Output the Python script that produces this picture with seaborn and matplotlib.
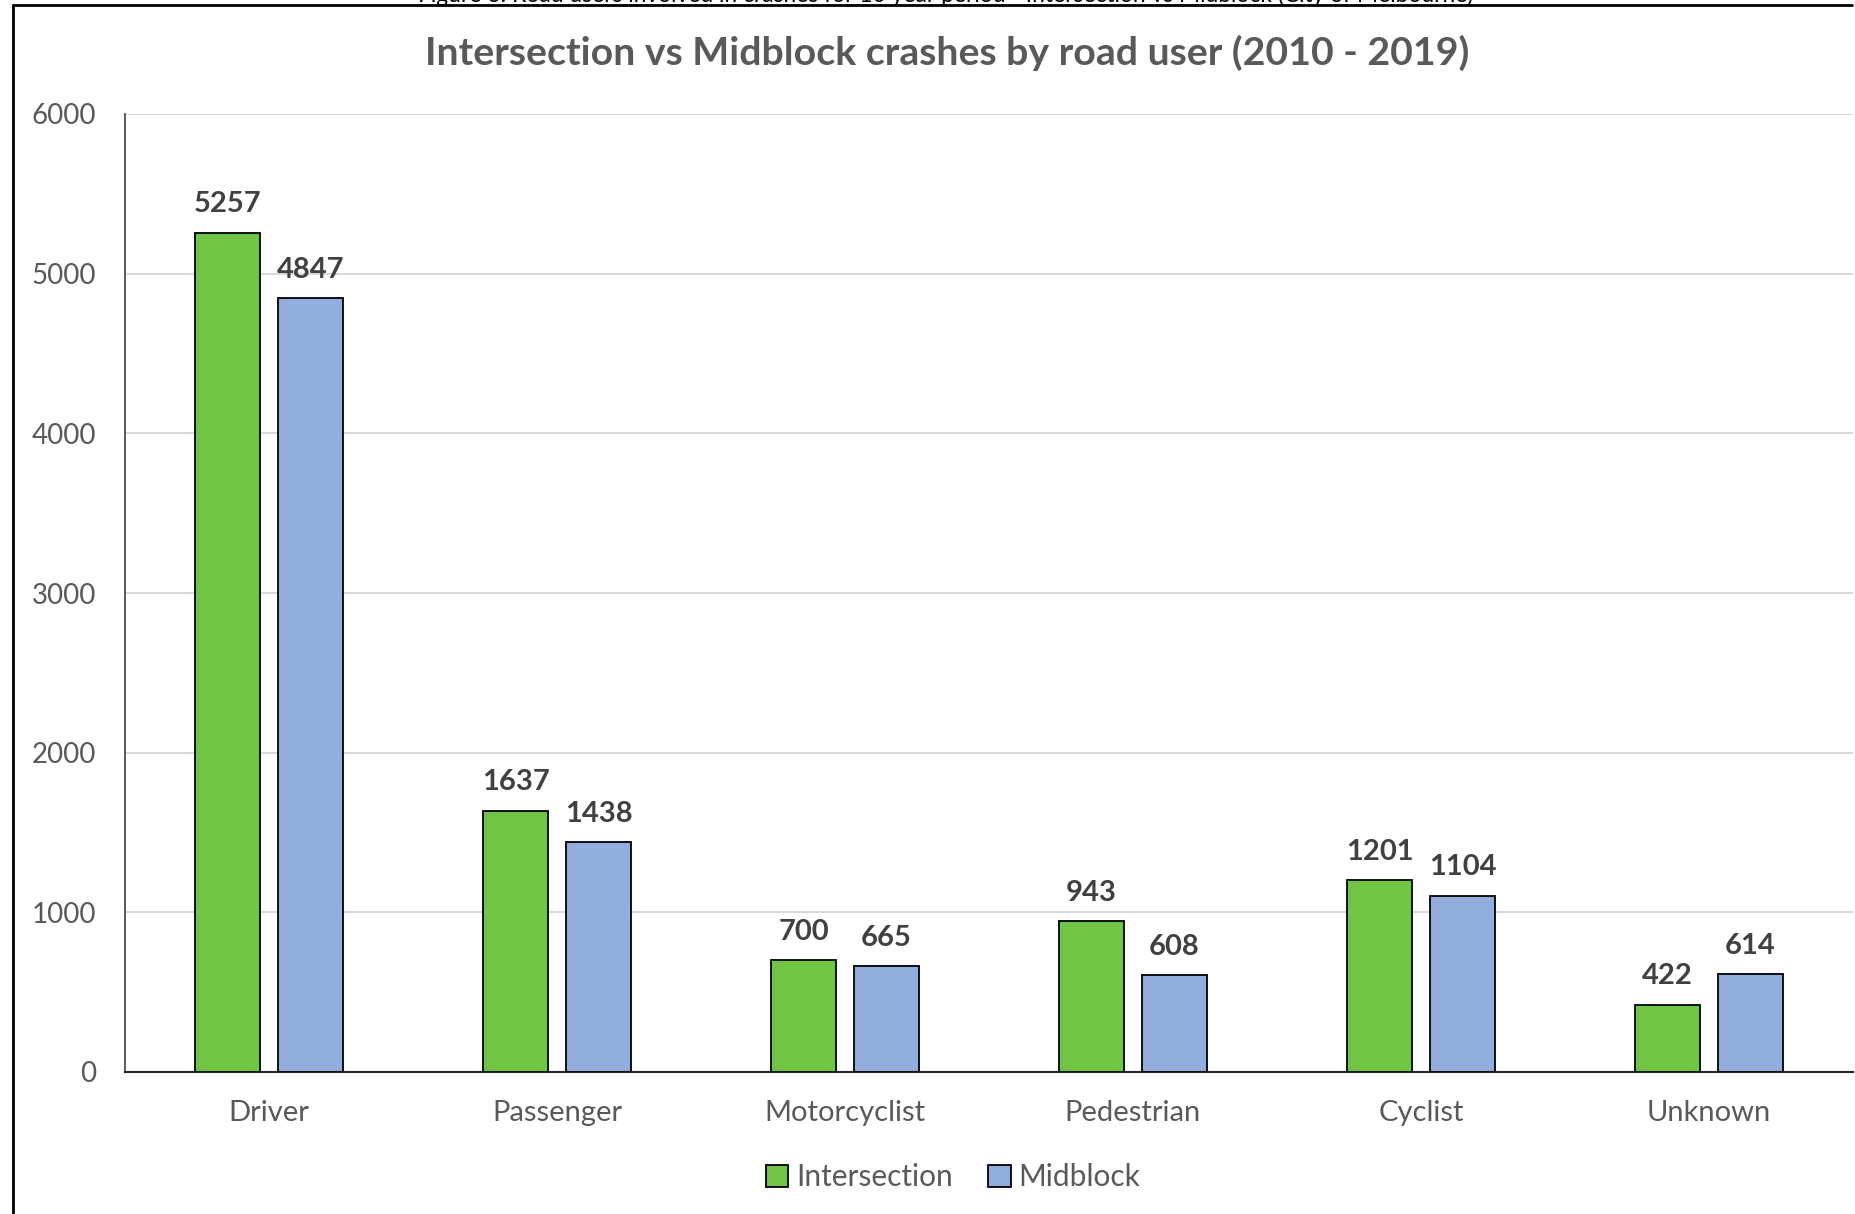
import matplotlib
matplotlib.use("Agg")
import matplotlib.pyplot as plt
from matplotlib.lines import Line2D
import seaborn as sns
import pandas as pd

# Road user categories and crash counts, 2010 - 2019
road_users = ["Driver", "Passenger", "Motorcyclist", "Pedestrian", "Cyclist", "Unknown"]
intersection = [5257, 1637, 700, 943, 1201, 422]
midblock = [4847, 1438, 665, 608, 1104, 614]
series_names = ["Intersection", "Midblock"]
y_ticks = [0, 1000, 2000, 3000, 4000, 5000, 6000]

title = "Intersection vs Midblock crashes by road user (2010 - 2019)"
caption = ("Figure 6: Road users involved in crashes for 10 year period - "
           "Intersection vs Midblock (City of Melbourne)")

df = pd.DataFrame({
    "Road user": road_users * 2,
    "Location": [series_names[0]] * len(road_users) + [series_names[1]] * len(road_users),
    "Crashes": intersection + midblock,
})

sns.set_theme(style="white")
plt.rcParams["font.family"] = ["Lato", "DejaVu Sans"]

GREEN = "#70C644"
BLUE = "#91ADDC"
TEXT_GRAY = "#595959"
LABEL_GRAY = "#404040"

fig = plt.figure(figsize=(18.56, 12.14), dpi=100)
ax = fig.add_axes([125 / 1856, 1 - 1072 / 1214, (1853 - 125) / 1856, (1072 - 114) / 1214])

sns.barplot(
    data=df, x="Road user", y="Crashes", hue="Location",
    palette=[GREEN, BLUE], saturation=1, width=0.576, gap=0.215,
    edgecolor="black", linewidth=1.3, ax=ax, legend=True, zorder=3,
)

for container in ax.containers:
    ax.bar_label(container, fmt="%d", padding=11, fontsize=21, fontweight="bold",
                 color=LABEL_GRAY)

ax.set_ylim(0, 6000)
ax.set_xlim(-0.5, len(road_users) - 0.5)
ax.set_yticks(y_ticks)
ax.set_yticklabels([str(t) for t in y_ticks], fontsize=20, color=TEXT_GRAY)
ax.tick_params(axis="x", labelsize=21, labelcolor=TEXT_GRAY, pad=20, length=0)
ax.tick_params(axis="y", pad=21, length=0)
ax.set_xlabel("")
ax.set_ylabel("")
ax.grid(axis="y", color="#D9D9D9", linewidth=1.5, zorder=0)
ax.set_axisbelow(True)

for side in ("top", "right"):
    ax.spines[side].set_visible(False)
ax.spines["left"].set_color("#404040")
ax.spines["left"].set_linewidth(1.2)
ax.spines["bottom"].set_color("#262626")
ax.spines["bottom"].set_linewidth(1.5)

leg = ax.legend(
    loc="center", bbox_to_anchor=(953 / 1856, 1 - 1177 / 1214),
    bbox_transform=fig.transFigure, ncol=2, frameon=False,
    fontsize=21.5, handlelength=0.75, handleheight=0.75, handletextpad=0.25,
    columnspacing=1.2, labelcolor=TEXT_GRAY,
)
for h in leg.legend_handles:
    h.set_edgecolor("black")
    h.set_linewidth(1.3)

fig.text(947 / 1856, 1 - 53 / 1214, title, ha="center", va="center",
         fontsize=28.3, fontweight="bold", color=TEXT_GRAY)

# Caption sitting above the frame, cropped at the top edge
fig.text(946 / 1856, 1 - 2 / 1214, caption, ha="center", va="baseline",
         fontsize=16.4, color="black")

# Frame lines: top edge and left edge
fig.add_artist(Line2D([13 / 1856, 1852 / 1856], [1 - 5 / 1214, 1 - 5 / 1214],
                      transform=fig.transFigure, color="black", linewidth=2))
fig.add_artist(Line2D([13 / 1856, 13 / 1856], [0, 1 - 5 / 1214],
                      transform=fig.transFigure, color="black", linewidth=2))

fig.savefig("out.png", dpi=100, facecolor="white")
